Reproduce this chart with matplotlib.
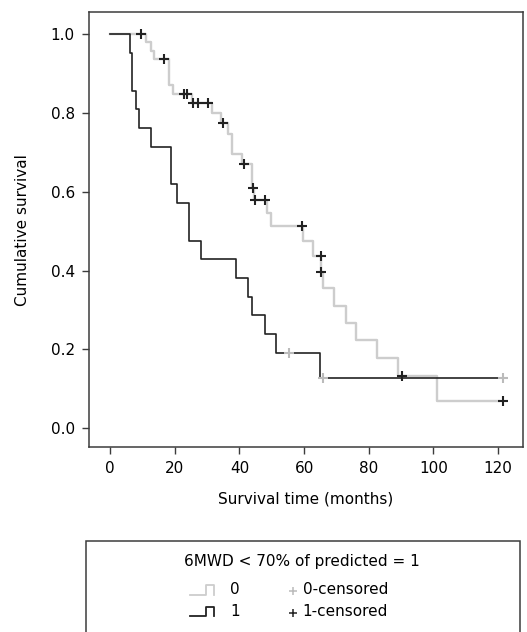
import numpy as np
import matplotlib
matplotlib.use("Agg")
import matplotlib.pyplot as plt
from matplotlib.lines import Line2D
from matplotlib.patches import Rectangle

# group 0 (6MWD >= 70% predicted), grey curve
g0_times = [0, 11.1, 12.6, 13.6, 18.3, 19.4, 25.2, 31.6, 34.3, 36.6, 37.7, 40.7,
            43.9, 44.4, 48.5, 49.7, 59.8, 62.9, 65.2, 65.8, 69.1, 73.0, 75.9,
            82.5, 89.0, 101.2, 120.3]
g0_surv = [1.0, 0.981, 0.957, 0.937, 0.871, 0.848, 0.826, 0.800, 0.776, 0.748,
           0.697, 0.670, 0.609, 0.579, 0.545, 0.513, 0.476, 0.438, 0.397, 0.355,
           0.310, 0.266, 0.224, 0.178, 0.133, 0.068, 0.068]
g0_censored = [9.5, 16.7, 22.9, 23.9, 25.7, 27.1, 30.2, 34.8, 41.5, 44.1, 44.7,
               47.9, 59.3, 65.1, 65.3, 90.2, 121.5]

# group 1 (6MWD < 70% predicted), black curve
g1_times = [0, 6.2, 6.9, 8.0, 9.1, 12.7, 18.7, 20.6, 24.5, 28.0, 39.0, 42.6,
            43.8, 47.8, 51.3, 65.0, 120.1]
g1_surv = [1.0, 0.952, 0.857, 0.810, 0.762, 0.714, 0.619, 0.571, 0.476, 0.429,
           0.381, 0.333, 0.286, 0.238, 0.190, 0.127, 0.127]
g1_censored = [55.3, 65.7, 121.5]

xticks = [0, 20, 40, 60, 80, 100, 120]
yticks = [0.0, 0.2, 0.4, 0.6, 0.8, 1.0]

GREY = "#cdcdcd"
BLACK = "#222222"
SPINE = "#3c3c3c"


def surv_at(times, surv, t):
  idx = np.searchsorted(np.asarray(times), np.asarray(t), side="right") - 1
  return np.asarray(surv)[idx]


plt.rcParams["font.family"] = ["DejaVu Sans"]
plt.rcParams["font.size"] = 11

fig = plt.figure(figsize=(5.27, 6.32), dpi=100)
ax = fig.add_axes([88.7 / 527, 1 - 447.3 / 632, (522.7 - 88.7) / 527, (447.3 - 12.3) / 632])

ax.step(g0_times, g0_surv, where="post", color=GREY, lw=1.7, zorder=2)
ax.step(g1_times, g1_surv, where="post", color=BLACK, lw=1.2, zorder=3)

# censor marks (colours as drawn in the original figure)
ax.plot(g0_censored, surv_at(g0_times, g0_surv, g0_censored), ls="none", marker="+",
        ms=7, mew=1.5, color=BLACK, zorder=4)
ax.plot(g1_censored, surv_at(g1_times, g1_surv, g1_censored), ls="none", marker="+",
        ms=7, mew=1.5, color="#bbbbbb", zorder=4)

ax.set_xlim(-6.6, 127.6)
ax.set_ylim(-0.049, 1.056)
ax.set_xticks(xticks)
ax.set_yticks(yticks)
ax.set_yticklabels([f"{v:.1f}" for v in yticks])
ax.tick_params(length=5, width=1, color=SPINE, pad=5)
for s in ax.spines.values():
  s.set_color(SPINE)
  s.set_linewidth(1.1)

ax.set_xlabel("Survival time (months)", labelpad=11)
ax.set_ylabel("Cumulative survival", labelpad=15)


# legend box drawn by hand
def fx(px):
  return px / 527


def fy(py):
  return 1 - py / 632


fig.add_artist(Rectangle((fx(86), fy(660)), fx(520) - fx(86), fy(540.7) - fy(660),
                         transform=fig.transFigure, fill=False, ec=SPINE, lw=1.1,
                         clip_on=False))
fig.text(fx(301.7), fy(561.7), "6MWD < 70% of predicted = 1", ha="center", va="center")

rows = [(590, "0", GREY, "#bbbbbb", "0-censored"),
        (611.5, "1", BLACK, BLACK, "1-censored")]
for yc, lab, lc, mc, ctext in rows:
  icon_x = [fx(190), fx(206), fx(206), fx(214.3), fx(214.3)]
  icon_y = [fy(yc + 4.5), fy(yc + 4.5), fy(yc - 5), fy(yc - 5), fy(yc + 4.5)]
  fig.add_artist(Line2D(icon_x, icon_y, transform=fig.transFigure, color=lc, lw=1.3))
  fig.text(fx(235), fy(yc), lab, ha="center", va="center")
  fig.add_artist(Line2D([fx(293.3)], [fy(yc + 1)], transform=fig.transFigure, ls="none",
                        marker="+", ms=6, mew=1.1, color=mc))
  fig.text(fx(302.7), fy(yc), ctext, ha="left", va="center")

fig.savefig("out.png", dpi=100)
